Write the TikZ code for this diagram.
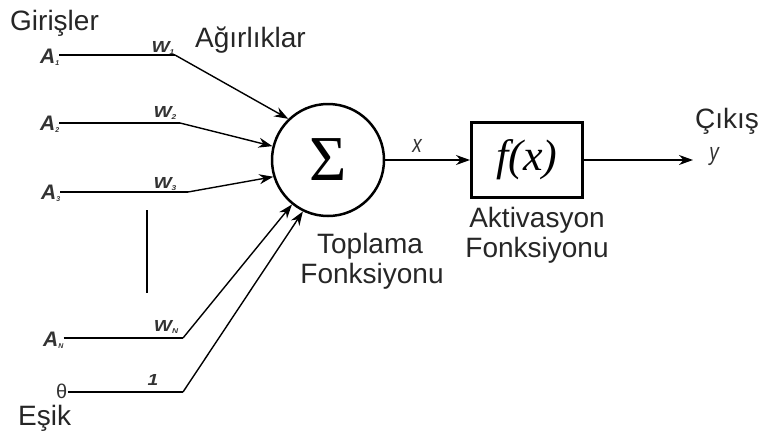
\documentclass[tikz,border=0pt]{standalone}
\usepackage{fontspec}
\setmainfont{Liberation Sans}
\newfontfamily\seriffont{Liberation Serif}
\usetikzlibrary{arrows.meta}
\tikzset{
  arr/.style={line width=1.4pt,-{Stealth[length=14pt,width=10pt]}},
  wire/.style={line width=1.4pt},
  lbl/.style={inner sep=0pt,anchor=base,font=\fontsize{28}{30}\selectfont,text=black!85},
  inlbl/.style={inner sep=0pt,anchor=base west,font=\fontsize{21}{21}\selectfont\bfseries\itshape,text=black!80},
  wlbl/.style={inner sep=0pt,anchor=base,font=\fontsize{16}{16}\selectfont\bfseries\itshape,text=black!80},
  vlbl/.style={inner sep=0pt,anchor=base,font=\fontsize{19}{19}\selectfont\itshape,text=black!80}
}
\newcommand{\sbs}[1]{\raisebox{-2pt}{\fontsize{7}{7}\selectfont #1}}
\newcommand{\wide}[1]{\scalebox{1.2}[1]{#1}}
\newcommand{\tall}[1]{\scalebox{1}[1.3]{#1}}
\begin{document}
\begin{tikzpicture}[x=1pt,y=-1pt]
\useasboundingbox (0,0) rectangle (760,434);
% summation and activation
\node[circle,draw,line width=2.5pt,minimum size=112pt,inner sep=0pt] (sum) at (328,160)
  {\seriffont\fontsize{64}{64}\selectfont Σ};
\node[draw,line width=3pt,minimum width=111pt,minimum height=75pt,inner sep=0pt] (f) at (527,160)
  {\seriffont\itshape\fontsize{44}{44}\selectfont f(x)};
% inputs
\node[inlbl] (a1) at (40,63) {A\sbs{1}};
\node[inlbl] (a2) at (40,130) {A\sbs{2}};
\node[inlbl] (a3) at (41,199) {A\sbs{3}};
\node[inlbl] (an) at (43,346) {A\sbs{N}};
\node[inner sep=0pt,anchor=base west,font=\fontsize{20}{20}\selectfont,text=black!80] (th) at (56,398) {θ};
\coordinate (b1) at (175,55);
\coordinate (b2) at (180,123);
\coordinate (b3) at (188,192);
\coordinate (bn) at (183,338);
\coordinate (bt) at (183,392);
\draw[wire] (a1.east |- b1) -- (b1);
\draw[wire] (a2.east |- b2) -- (b2);
\draw[wire] (a3.east |- b3) -- (b3);
\draw[wire] (an.east |- bn) -- (bn);
\draw[wire] (th.east |- bt) -- (bt);
\draw[arr] (b1) -- (sum.134);
\draw[arr] (b2) -- (sum.166);
\draw[arr] (b3) -- (sum.197);
\draw[arr] (bn) -- (sum.231);
\draw[arr] (bt) -- (sum.244);
% weights
\node[wlbl] at (163,52) {\wide{W\sbs{1}}};
\node[wlbl] at (165,117) {\wide{W\sbs{2}}};
\node[wlbl] at (165,188) {\wide{W\sbs{3}}};
\node[wlbl] at (166,331) {\wide{W\sbs{N}}};
\node[wlbl] at (153,385) {\wide{1}};
% ellipsis line
\draw[wire] (147,210) -- (147,293);
% output
\coordinate (out) at (693,160);
\draw[arr] (sum.east) -- (f.west);
\node[vlbl] at (417,152) {\tall{x}};
\draw[arr] (f.east) -- (out);
% labels
\node[lbl,anchor=base west] at (10,30) {Girişler};
\node[lbl,anchor=base west] at (195,47) {Ağırlıklar};
\node[lbl,anchor=base west] at (18,425) {Eşik};
\node[lbl] at (370,253) {Toplama};
\node[lbl] at (372,283) {Fonksiyonu};
\node[lbl] at (537,227) {Aktivasyon};
\node[lbl] at (537,257) {Fonksiyonu};
\node[lbl,anchor=base west] at (695,128) {Çıkış};
\node[vlbl] at (714,160) {\tall{y}};
\end{tikzpicture}
\end{document}
